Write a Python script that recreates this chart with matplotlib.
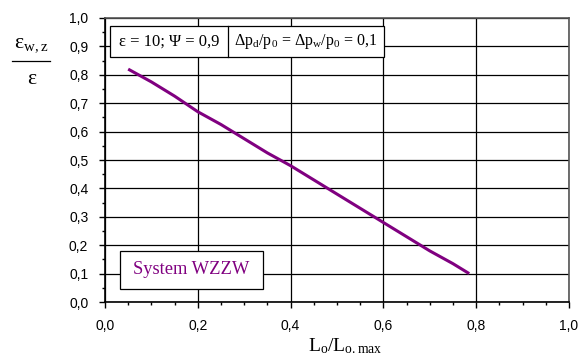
import numpy as np
import matplotlib.pyplot as plt
from matplotlib.patches import Rectangle
from matplotlib.ticker import MultipleLocator, FuncFormatter

# curve
x_ratio = [0.05, 0.10, 0.15, 0.20, 0.25, 0.30, 0.35, 0.40, 0.45, 0.50,
           0.55, 0.60, 0.65, 0.70, 0.75, 0.785]
eps_ratio = [0.82, 0.775, 0.725, 0.67, 0.625, 0.575, 0.525, 0.48, 0.43, 0.38,
             0.33, 0.28, 0.23, 0.18, 0.135, 0.10]

purple = "#800080"
serif = "Liberation Serif"
sans = "Liberation Sans"

plt.rcParams["font.family"] = sans
plt.rcParams["mathtext.fontset"] = "custom"
plt.rcParams["mathtext.rm"] = serif
plt.rcParams["mathtext.it"] = serif

fig = plt.figure(figsize=(5.79, 3.57), dpi=100)
ax = fig.add_axes([0.1813, 0.154, 0.8014, 0.7956])

ax.plot(x_ratio, eps_ratio, color=purple, lw=2.2, solid_capstyle="butt")

ax.set_xlim(0, 1)
ax.set_ylim(0, 1)
ax.xaxis.set_major_locator(MultipleLocator(0.2))
ax.xaxis.set_minor_locator(MultipleLocator(0.05))
ax.yaxis.set_major_locator(MultipleLocator(0.1))
ax.yaxis.set_minor_locator(MultipleLocator(0.05))
fmt = FuncFormatter(lambda v, p: f"{v:.1f}".replace(".", ","))
ax.xaxis.set_major_formatter(fmt)
ax.yaxis.set_major_formatter(fmt)
ax.grid(True, which="major", color="black", lw=0.9)
ax.tick_params(which="major", length=4, width=1, labelsize=10, pad=8)
ax.tick_params(which="minor", length=2.5, width=1)
for s in ax.spines.values():
    s.set_color("#555555")
    s.set_linewidth(1.2)
ax.spines["left"].set_color("black")
ax.spines["bottom"].set_color("black")

# parameter box with two cells
ax.add_patch(Rectangle((0.011, 0.863), 0.59, 0.109, transform=ax.transAxes,
                       fc="white", ec="black", lw=0.9, zorder=3))
ax.plot([0.265, 0.265], [0.863, 0.972], transform=ax.transAxes,
        color="black", lw=0.9, zorder=4)
ax.text(0.138, 0.917, "ε = 10; Ψ = 0,9", transform=ax.transAxes,
        fontsize=12, family=serif, va="center", ha="center", zorder=5)
ax.text(0.433, 0.917,
        r"Δp$_\mathregular{d}$/p$_\mathregular{0}$ = Δp$_\mathregular{w}$/p$_\mathregular{0}$ = 0,1",
        transform=ax.transAxes, fontsize=11.5, family=serif, va="center",
        ha="center", zorder=5)

# legend-like box
ax.add_patch(Rectangle((0.032, 0.046), 0.308, 0.134, transform=ax.transAxes,
                       fc="white", ec="black", lw=0.9, zorder=3))
ax.text(0.186, 0.113, "System WZZW", transform=ax.transAxes, fontsize=13.3,
        family=serif, color=purple, va="center", ha="center", zorder=5)

# axis labels
fig.text(0.596, 0.03, r"L$_\mathregular{o}$/L$_\mathregular{o.max}$",
         fontsize=14, family=serif, ha="center", va="center")
fig.text(0.054, 0.874, r"ε$_\mathregular{w,z}$", fontsize=15.5, family=serif,
         ha="center", va="center")
fig.add_artist(plt.Line2D([0.021, 0.086], [0.829, 0.829], color="black", lw=0.9))
fig.text(0.054, 0.776, "ε", fontsize=15.5, family=serif, ha="center", va="center")

fig.savefig("out.png", dpi=100)
